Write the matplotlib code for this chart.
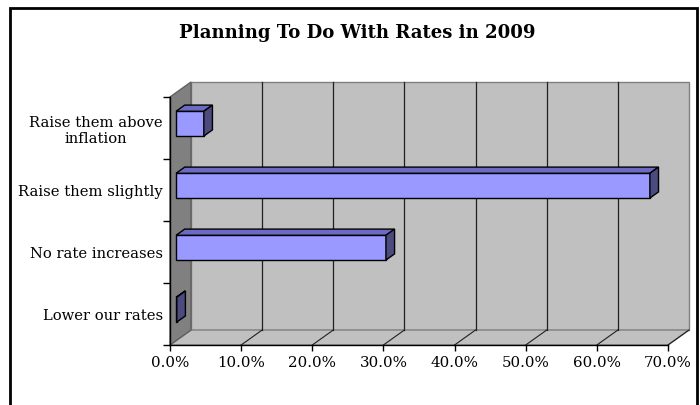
import matplotlib
matplotlib.use("Agg")
import matplotlib.pyplot as plt
from matplotlib.patches import Polygon, Rectangle

# data
categories = ["Lower our rates", "No rate increases", "Raise them slightly", "Raise them above\ninflation"]
values = [0.001, 0.295, 0.666, 0.039]
xticks = [0.0, 0.1, 0.2, 0.3, 0.4, 0.5, 0.6, 0.7]
title = "Planning To Do With Rates in 2009"

plt.rcParams["font.family"] = ["DejaVu Serif"]

W, H = 700, 406
fig = plt.figure(figsize=(W / 100, H / 100), dpi=100)

# front plane of the 3d box, in pixels
x0, x1 = 170, 668
y0, y1 = 98, 346
ax = fig.add_axes([x0 / W, 1 - y1 / H, (x1 - x0) / W, (y1 - y0) / H])
ax.set_xlim(0, 0.7)
ax.set_ylim(0, 4)

# depth vector (21 px right, 15 px up) in data units
DX = 0.7 * 21 / (x1 - x0)
DY = 4 * 15 / (y1 - y0)


def p(x, y, z):
    return (x + z * DX, y + z * DY)


xmax = 0.7
wall = "#c0c0c0"
# back wall, floor, side wall
ax.add_patch(Polygon([p(0, 0, 1), p(xmax, 0, 1), p(xmax, 4, 1), p(0, 4, 1)],
                     closed=True, fc=wall, ec="#808080", lw=1, clip_on=False, zorder=1))
ax.add_patch(Polygon([p(0, 0, 0), p(xmax, 0, 0), p(xmax, 0, 1), p(0, 0, 1)],
                     closed=True, fc=wall, ec="#808080", lw=1, clip_on=False, zorder=1))
ax.add_patch(Polygon([p(0, 0, 0), p(0, 0, 1), p(0, 4, 1), p(0, 4, 0)],
                     closed=True, fc="#808080", ec="#606060", lw=1, clip_on=False, zorder=1))

# gridlines on back wall and floor
for t in xticks[1:-1]:
    ax.plot(*zip(p(t, 0, 1), p(t, 4, 1)), color="#202020", lw=0.9, clip_on=False, zorder=2)
for t in xticks[1:]:
    ax.plot(*zip(p(t, 0, 0), p(t, 0, 1)), color="#202020", lw=0.8, clip_on=False, zorder=2)

# bars
z0, z1 = 0.29, 0.70
bh = 0.4
for i, v in enumerate(values):
    yc = i + 0.5
    ya, yb = yc - bh / 2, yc + bh / 2
    front = [p(0, ya, z0), p(v, ya, z0), p(v, yb, z0), p(0, yb, z0)]
    top = [p(0, yb, z0), p(v, yb, z0), p(v, yb, z1), p(0, yb, z1)]
    side = [p(v, ya, z0), p(v, ya, z1), p(v, yb, z1), p(v, yb, z0)]
    ax.add_patch(Polygon(front, closed=True, fc="#9999ff", ec="black", lw=1, clip_on=False, zorder=3))
    ax.add_patch(Polygon(top, closed=True, fc="#6b6bc4", ec="black", lw=1, clip_on=False, zorder=3))
    ax.add_patch(Polygon(side, closed=True, fc="#4b4b80", ec="black", lw=1, clip_on=False, zorder=3))

for s in ["top", "right"]:
    ax.spines[s].set_visible(False)
for s in ["left", "bottom"]:
    ax.spines[s].set_color("black")
    ax.spines[s].set_linewidth(1)
    ax.spines[s].set_zorder(4)
ax.patch.set_visible(False)

ax.set_xticks(xticks)
ax.set_xticklabels([f"{t * 100:.1f}%" for t in xticks], fontsize=10.8)
ax.tick_params(axis="x", length=4, width=1, pad=3, colors="black")

ax.set_yticks([0, 1, 2, 3, 4], minor=True)
ax.set_yticks([i + 0.5 for i in range(len(categories))])
ax.set_yticklabels(categories, fontsize=10.6, multialignment="center", linespacing=1.1)
ax.tick_params(axis="y", which="major", length=0, pad=5)
ax.tick_params(axis="y", which="minor", length=5, width=1)

fig.text(357 / W, 1 - 33 / H, title, ha="center", va="center", fontsize=13.1, fontweight="bold")

# outer frame of the chart area
fig.patches.append(Rectangle((10 / W, -0.05), 687 / W, 1 - 9 / H + 0.05, transform=fig.transFigure,
                             fill=False, ec="black", lw=2))

fig.savefig("out.png", dpi=100)
